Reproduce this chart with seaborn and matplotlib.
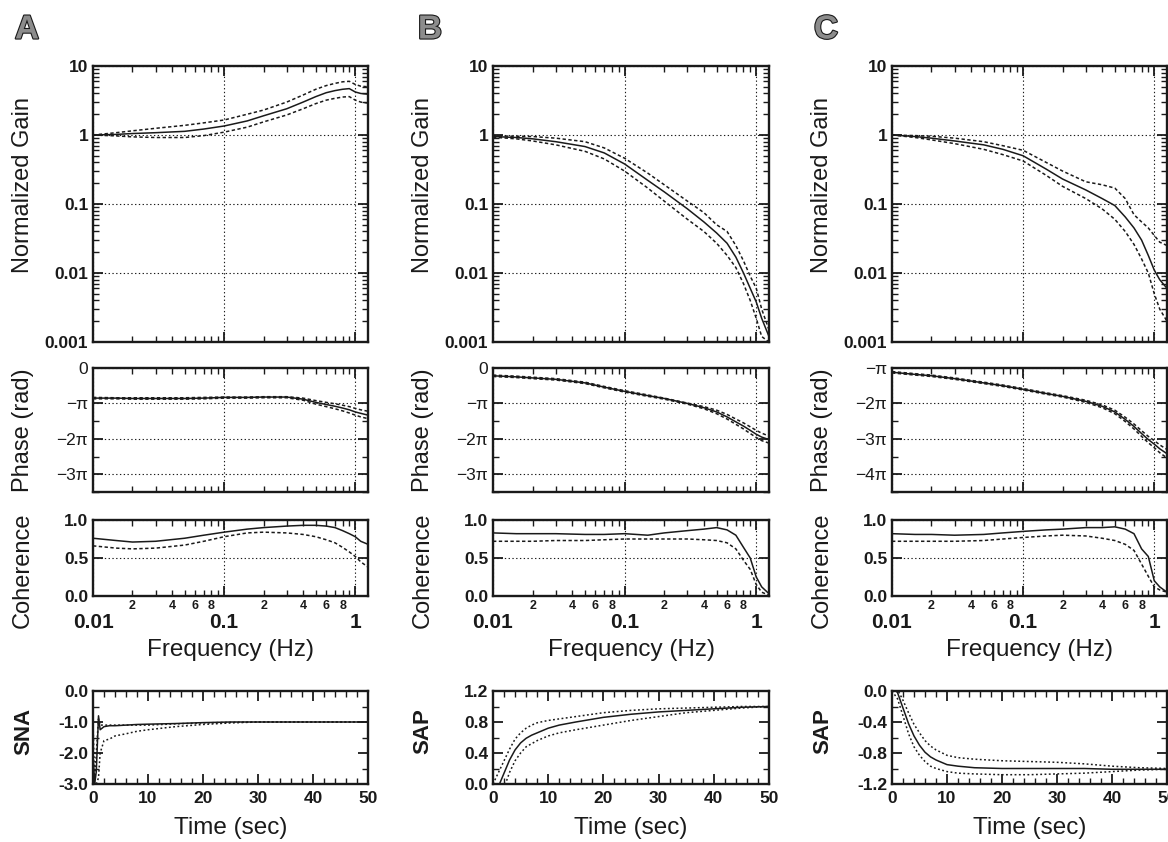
import numpy as np
import matplotlib
matplotlib.use('Agg')
import matplotlib.pyplot as plt
import matplotlib.ticker as mticker
import matplotlib.patheffects as pe
import seaborn as sns

# ------------------------------------------------------------
# data
# ------------------------------------------------------------
freq = [0.01, 0.015, 0.02, 0.03, 0.05, 0.07, 0.1, 0.15, 0.2, 0.3,
        0.4, 0.5, 0.6, 0.7, 0.8, 0.9, 1.0, 1.1, 1.25]

# normalized gain
gain_a_mean = [1.0, 1.02, 1.05, 1.08, 1.13, 1.22, 1.35, 1.6, 1.9, 2.4, 3.0, 3.6, 4.1, 4.4, 4.6, 4.7, 4.2, 4.0, 3.9]
gain_a_upper = [1.0, 1.08, 1.15, 1.25, 1.38, 1.5, 1.65, 2.0, 2.3, 3.0, 3.8, 4.6, 5.2, 5.6, 5.9, 6.0, 5.4, 5.1, 5.0]
gain_a_lower = [1.0, 0.97, 0.94, 0.92, 0.92, 0.98, 1.1, 1.3, 1.55, 1.95, 2.4, 2.85, 3.2, 3.4, 3.55, 3.6, 3.2, 3.0, 2.9]

gain_b_mean = [0.95, 0.92, 0.88, 0.8, 0.68, 0.55, 0.38, 0.22, 0.15, 0.085, 0.055, 0.038, 0.027, 0.017, 0.010, 0.006, 0.0038, 0.0022, 0.0012]
gain_b_upper = [0.97, 0.96, 0.95, 0.9, 0.8, 0.65, 0.46, 0.28, 0.19, 0.11, 0.075, 0.05, 0.04, 0.025, 0.015, 0.009, 0.006, 0.003, 0.0015]
gain_b_lower = [0.93, 0.88, 0.82, 0.72, 0.58, 0.45, 0.3, 0.17, 0.11, 0.06, 0.04, 0.027, 0.018, 0.012, 0.007, 0.004, 0.0022, 0.0012, 0.001]

gain_c_mean = [1.0, 0.95, 0.9, 0.82, 0.72, 0.62, 0.5, 0.32, 0.23, 0.16, 0.12, 0.095, 0.065, 0.045, 0.03, 0.018, 0.011, 0.008, 0.006]
gain_c_upper = [1.0, 0.98, 0.96, 0.9, 0.8, 0.7, 0.6, 0.4, 0.3, 0.21, 0.19, 0.17, 0.12, 0.07, 0.055, 0.045, 0.035, 0.028, 0.025]
gain_c_lower = [1.0, 0.92, 0.85, 0.75, 0.62, 0.52, 0.42, 0.26, 0.18, 0.12, 0.085, 0.06, 0.04, 0.026, 0.016, 0.01, 0.005, 0.003, 0.002]

# phase, in units of pi
phase_a_mean = [-0.85, -0.85, -0.86, -0.86, -0.86, -0.85, -0.83, -0.83, -0.82, -0.82, -0.88, -0.97, -1.03, -1.08, -1.13, -1.18, -1.24, -1.28, -1.33]
phase_a_upper = [-0.83, -0.84, -0.84, -0.84, -0.84, -0.83, -0.82, -0.82, -0.81, -0.81, -0.85, -0.92, -0.97, -1.01, -1.05, -1.09, -1.14, -1.18, -1.22]
phase_a_lower = [-0.87, -0.87, -0.88, -0.88, -0.88, -0.87, -0.85, -0.85, -0.84, -0.84, -0.91, -1.02, -1.09, -1.15, -1.21, -1.27, -1.33, -1.38, -1.43]

phase_b_mean = [-0.22, -0.25, -0.28, -0.32, -0.42, -0.54, -0.66, -0.78, -0.86, -1.0, -1.12, -1.24, -1.38, -1.52, -1.64, -1.76, -1.87, -1.95, -2.02]
phase_b_upper = [-0.2, -0.23, -0.26, -0.3, -0.4, -0.52, -0.64, -0.76, -0.85, -0.99, -1.09, -1.19, -1.31, -1.44, -1.55, -1.66, -1.76, -1.84, -1.92]
phase_b_lower = [-0.24, -0.27, -0.3, -0.34, -0.44, -0.56, -0.68, -0.8, -0.88, -1.02, -1.15, -1.29, -1.44, -1.59, -1.72, -1.85, -1.96, -2.05, -2.12]

phase_c_mean = [-1.12, -1.18, -1.22, -1.3, -1.42, -1.5, -1.6, -1.72, -1.8, -1.94, -2.08, -2.24, -2.45, -2.65, -2.85, -3.02, -3.15, -3.28, -3.42]
phase_c_upper = [-1.1, -1.16, -1.2, -1.28, -1.4, -1.48, -1.58, -1.7, -1.78, -1.91, -2.04, -2.19, -2.39, -2.58, -2.77, -2.93, -3.05, -3.17, -3.3]
phase_c_lower = [-1.14, -1.2, -1.24, -1.32, -1.44, -1.52, -1.62, -1.74, -1.82, -1.97, -2.12, -2.29, -2.51, -2.72, -2.93, -3.11, -3.25, -3.39, -3.54]

# coherence (estimate and lower bound)
coh_a_mean = [0.76, 0.73, 0.71, 0.72, 0.76, 0.8, 0.84, 0.88, 0.9, 0.92, 0.93, 0.93, 0.92, 0.9, 0.86, 0.82, 0.78, 0.72, 0.68]
coh_a_lower = [0.66, 0.63, 0.62, 0.63, 0.67, 0.72, 0.78, 0.83, 0.84, 0.83, 0.81, 0.78, 0.74, 0.7, 0.64, 0.58, 0.52, 0.45, 0.38]
coh_b_mean = [0.83, 0.82, 0.82, 0.82, 0.81, 0.81, 0.82, 0.8, 0.83, 0.86, 0.88, 0.9, 0.87, 0.8, 0.64, 0.5, 0.25, 0.12, 0.03]
coh_b_lower = [0.72, 0.72, 0.72, 0.73, 0.73, 0.74, 0.75, 0.75, 0.75, 0.75, 0.74, 0.73, 0.7, 0.62, 0.47, 0.35, 0.15, 0.05, 0.01]
coh_c_mean = [0.82, 0.81, 0.81, 0.8, 0.81, 0.83, 0.85, 0.87, 0.88, 0.9, 0.9, 0.91, 0.88, 0.82, 0.62, 0.52, 0.2, 0.12, 0.05]
coh_c_lower = [0.72, 0.72, 0.72, 0.72, 0.73, 0.75, 0.77, 0.79, 0.8, 0.79, 0.76, 0.73, 0.68, 0.6, 0.42, 0.26, 0.12, 0.08, 0.05]

# step responses
time_a = [0, 0.3, 0.6, 1.0, 1.3, 2, 3, 4, 6, 8, 10, 15, 20, 25, 30, 40, 50]
sna_mean = [-2.0, -3.0, -2.6, -0.8, -1.25, -1.15, -1.12, -1.12, -1.1, -1.08, -1.07, -1.05, -1.02, -1.0, -1.0, -1.0, -1.0]
sna_upper = [-1.0, -2.9, -2.0, -0.9, -1.1, -1.1, -1.1, -1.1, -1.1, -1.1, -1.1, -1.06, -1.03, -1.01, -1.0, -1.0, -1.0]
sna_lower = [-2.5, -3.0, -3.0, -2.8, -2.0, -1.6, -1.55, -1.45, -1.38, -1.3, -1.25, -1.15, -1.08, -1.03, -1.0, -1.0, -1.0]

time_bc = [0, 1, 2, 3, 4, 5, 6, 7, 8, 10, 12, 15, 20, 25, 30, 35, 40, 45, 50]
sap_b_mean = [-0.15, -0.03, 0.14, 0.31, 0.44, 0.53, 0.59, 0.63, 0.66, 0.72, 0.76, 0.8, 0.86, 0.9, 0.93, 0.95, 0.97, 0.99, 1.0]
sap_b_upper = [0.0, 0.15, 0.3, 0.45, 0.58, 0.66, 0.72, 0.76, 0.79, 0.82, 0.84, 0.87, 0.92, 0.95, 0.97, 0.98, 0.99, 1.0, 1.0]
sap_b_lower = [-0.3, -0.18, -0.05, 0.15, 0.3, 0.4, 0.48, 0.52, 0.56, 0.62, 0.66, 0.7, 0.76, 0.82, 0.87, 0.92, 0.95, 0.98, 1.0]

sap_c_mean = [0.05, -0.02, -0.22, -0.42, -0.58, -0.7, -0.79, -0.85, -0.89, -0.95, -0.97, -0.99, -1.0, -1.0, -1.0, -1.0, -1.01, -1.01, -1.01]
sap_c_upper = [0.05, 0.02, -0.12, -0.28, -0.43, -0.54, -0.64, -0.71, -0.76, -0.83, -0.86, -0.88, -0.9, -0.91, -0.92, -0.94, -0.97, -0.99, -1.0]
sap_c_lower = [0.0, -0.1, -0.32, -0.55, -0.72, -0.83, -0.91, -0.97, -1.0, -1.04, -1.06, -1.07, -1.08, -1.08, -1.07, -1.06, -1.04, -1.02, -1.01]

# ------------------------------------------------------------
# style
# ------------------------------------------------------------
sns.set_theme(style='ticks')
plt.rcParams['font.family'] = ['Liberation Sans', 'DejaVu Sans']
plt.rcParams['axes.unicode_minus'] = False
plt.rcParams['axes.linewidth'] = 1.7

W, H = 1168, 842
fig = plt.figure(figsize=(W / 100, H / 100), dpi=100)
fig.patch.set_facecolor('white')

DASH = (0, (2.2, 1.6))
GRID = dict(color='k', linestyle=(0, (1.2, 2.2)), linewidth=0.8)
TICK_FS = 12.5


def box(x0, y0, x1, y1):
    return fig.add_axes([x0 / W, 1 - y1 / H, (x1 - x0) / W, (y1 - y0) / H])


def draw(ax, x, y, ls='-'):
    sns.lineplot(x=x, y=y, ax=ax, color='k', linewidth=1.1, linestyle=ls,
                 estimator=None, sort=False, legend=False)


def ticks_in(ax):
    ax.tick_params(which='both', direction='in', top=True, right=True, colors='k')
    ax.tick_params(which='major', length=7, width=1.3)
    ax.tick_params(which='minor', length=4, width=1.0)
    for s in ax.spines.values():
        s.set_color('k')


def freq_axis(ax, show_labels=False):
    ax.set_xscale('log')
    ax.set_xlim(0.01, 1.25)
    minor = [k * 10.0 ** e for e in (-2, -1) for k in range(2, 10)]
    if show_labels:
        ax.set_xticks([0.01, 0.1, 1], labels=['0.01', '0.1', '1'],
                      fontsize=15, fontweight='bold')
        ax.set_xticks(minor, labels=[str(k) if k in (2, 4, 6, 8) else ''
                                     for e in (-2, -1) for k in range(2, 10)],
                      minor=True, fontsize=9, fontweight='bold')
        ax.tick_params(axis='x', which='major', pad=12)
        ax.tick_params(axis='x', which='minor', pad=3)
    else:
        ax.set_xticks([0.01, 0.1, 1], labels=[])
        ax.set_xticks(minor, labels=[], minor=True)
    ax.xaxis.grid(True, which='major', **GRID)
    ax.set_xlabel('')


def ylabel(ax, text, ypos, size=17, weight='normal'):
    ax.set_ylabel(text, fontsize=size, fontweight=weight, color='k')
    ax.yaxis.set_label_coords(-0.215, ypos)


columns = [
    dict(letter='A', x0=93, x1=368,
         gain=(gain_a_mean, gain_a_upper, gain_a_lower),
         phase=(phase_a_mean, phase_a_upper, phase_a_lower),
         phase_lim=(-3, 0), coh=(coh_a_mean, coh_a_lower),
         time=time_a, step=(sna_mean, sna_upper, sna_lower), step_name='SNA',
         step_lim=(-3.0, 0.0), step_major=[0.0, -1.0, -2.0, -3.0], step_minor=0.5),
    dict(letter='B', x0=493, x1=769,
         gain=(gain_b_mean, gain_b_upper, gain_b_lower),
         phase=(phase_b_mean, phase_b_upper, phase_b_lower),
         phase_lim=(-3, 0), coh=(coh_b_mean, coh_b_lower),
         time=time_bc, step=(sap_b_mean, sap_b_upper, sap_b_lower), step_name='SAP',
         step_lim=(0.0, 1.2), step_major=[0.0, 0.4, 0.8, 1.2], step_minor=0.2),
    dict(letter='C', x0=892, x1=1167,
         gain=(gain_c_mean, gain_c_upper, gain_c_lower),
         phase=(phase_c_mean, phase_c_upper, phase_c_lower),
         phase_lim=(-4, -1), coh=(coh_c_mean, coh_c_lower),
         time=time_bc, step=(sap_c_mean, sap_c_upper, sap_c_lower), step_name='SAP',
         step_lim=(-1.2, 0.0), step_major=[0.0, -0.4, -0.8, -1.2], step_minor=0.2),
]

letter_pos = {'A': (27, 30), 'B': (430, 30), 'C': (826, 30)}


def pi_label(k):
    if k == 0:
        return '0'
    if k == -1:
        return '\u2212\u03c0'
    return '\u2212%d\u03c0' % (-k)


for col in columns:
    x0, x1 = col['x0'], col['x1']

    # --- gain ---
    ax = box(x0, 66, x1, 342)
    m, u, l = col['gain']
    draw(ax, freq, u, DASH)
    draw(ax, freq, l, DASH)
    draw(ax, freq, m)
    ax.set_yscale('log')
    ax.set_ylim(0.001, 10)
    ax.set_yticks([0.001, 0.01, 0.1, 1, 10],
                  labels=['0.001', '0.01', '0.1', '1', '10'],
                  fontsize=TICK_FS, fontweight='bold')
    ax.set_yticks([k * 10.0 ** e for e in (-3, -2, -1, 0) for k in range(2, 10)],
                  labels=[], minor=True)
    ax.yaxis.grid(True, which='major', **GRID)
    freq_axis(ax)
    ticks_in(ax)
    ylabel(ax, 'Normalized Gain', 0.57)

    # --- phase ---
    ax = box(x0, 368, x1, 492)
    m, u, l = col['phase']
    draw(ax, freq, u, DASH)
    draw(ax, freq, l, DASH)
    draw(ax, freq, m)
    lo, hi = col['phase_lim']
    ax.set_ylim(lo, hi)
    ks = list(range(hi, lo - 1, -1))
    ax.set_yticks(ks, labels=[pi_label(k) for k in ks], fontsize=TICK_FS)
    ax.set_yticks([k - 0.5 for k in ks[1:]], labels=[], minor=True)
    ax.yaxis.grid(True, which='major', **GRID)
    freq_axis(ax)
    ticks_in(ax)
    ylabel(ax, 'Phase (rad)', 0.5)

    # --- coherence ---
    ax = box(x0, 520, x1, 596)
    m, l = col['coh']
    draw(ax, freq, l, DASH)
    draw(ax, freq, m)
    ax.set_ylim(0, 1)
    ax.set_yticks([0.0, 0.5, 1.0], labels=['0.0', '0.5', '1.0'],
                  fontsize=TICK_FS, fontweight='bold')
    ax.yaxis.grid(True, which='major', **GRID)
    freq_axis(ax, show_labels=True)
    ticks_in(ax)
    ylabel(ax, 'Coherence', 0.34)
    ax.set_xlabel('Frequency (Hz)', fontsize=17.5, color='k')
    ax.xaxis.set_label_coords(0.5, -0.57)

    # --- step response ---
    ax = box(x0, 691, x1, 784)
    m, u, l = col['step']
    t = col['time']
    draw(ax, t, u, (0, (1.2, 1.6)))
    draw(ax, t, l, (0, (1.2, 1.6)))
    draw(ax, t, m)
    ax.set_xlim(0, 50)
    ax.set_ylim(*col['step_lim'])
    ax.set_xticks([0, 10, 20, 30, 40, 50], labels=['0', '10', '20', '30', '40', '50'],
                  fontsize=TICK_FS, fontweight='bold')
    ax.xaxis.set_minor_locator(mticker.MultipleLocator(2))
    ax.set_yticks(col['step_major'], labels=['%.1f' % v for v in col['step_major']],
                  fontsize=TICK_FS, fontweight='bold')
    ax.yaxis.set_minor_locator(mticker.MultipleLocator(col['step_minor']))
    ticks_in(ax)
    ax.tick_params(axis='x', which='major', pad=5)
    ylabel(ax, col['step_name'], 0.57, size=16, weight='bold')
    ax.set_xlabel('Time (sec)', fontsize=17.5, color='k')
    ax.xaxis.set_label_coords(0.5, -0.36)

    # --- panel letter ---
    lx, ly = letter_pos[col['letter']]
    fig.text(lx / W, 1 - ly / H, col['letter'], fontsize=24, fontweight='bold',
             color='0.55', ha='center', va='center',
             path_effects=[pe.withStroke(linewidth=1.6, foreground='k')])

fig.savefig('out.png', dpi=100, facecolor='white')
